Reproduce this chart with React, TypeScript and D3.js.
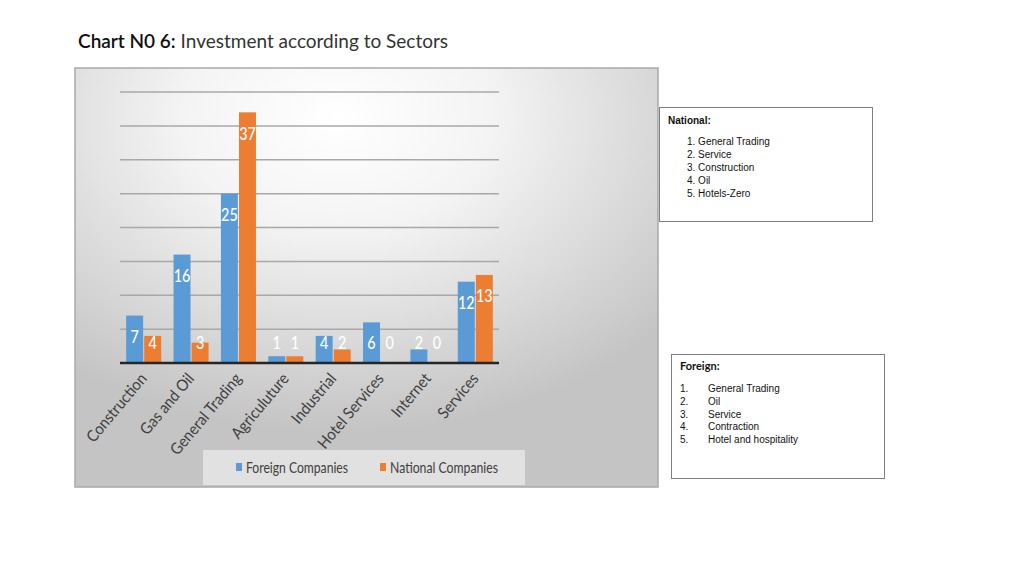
import React from "react";
import * as d3 from "d3";

const categories = ["Construction", "Gas and Oil", "General Trading", "Agriculuture", "Industrial", "Hotel Services", "Internet", "Services"];
const foreignValues = [7, 16, 25, 1, 4, 6, 2, 12];
const nationalValues = [4, 3, 37, 1, 2, 0, 0, 13];
const seriesNames = ["Foreign Companies", "National Companies"];
const seriesColors = ["#5b9bd5", "#ed7d31"];
const yTicks = [5, 10, 15, 20, 25, 30, 35, 40];
const nationalList = ["General Trading", "Service", "Construction", "Oil", "Hotels-Zero"];
const foreignList = ["General Trading", "Oil", "Service", "Contraction", "Hotel and hospitality"];

const calibri = "Lato, 'Open Sans', sans-serif";
const arial = "'Liberation Sans', Arial, sans-serif";

export default function App() {
  const x = d3.scaleBand<string>().domain(categories).range([120, 499]).paddingInner(0.26).paddingOuter(0.13);
  const x1 = d3.scaleBand<string>().domain(seriesNames).range([0, x.bandwidth()]).paddingInner(0.06);
  const y = d3.scaleLinear().domain([0, 40]).range([363, 92]);
  const seriesValues = [foreignValues, nationalValues];

  return (
    <svg width={1024} height={576} style={{ position: "absolute", left: 0, top: 0, background: "#fff" }}>
      <defs>
        <radialGradient id="panelGrad" cx="0.45" cy="0.12" r="0.75" gradientUnits="objectBoundingBox">
          <stop offset="0" stopColor="#ffffff" />
          <stop offset="0.35" stopColor="#f4f4f4" />
          <stop offset="1" stopColor="#c4c4c4" />
        </radialGradient>
      </defs>
      {/* Title */}
      <text x={78} y={48} fontFamily={calibri} fontSize={19} fill="#111">
        <tspan fontWeight={600}>Chart N0 6:</tspan>
        <tspan fill="#333"> Investment according to Sectors</tspan>
      </text>

      {/* Chart panel */}
      <rect x={75} y={68} width={583} height={419} fill="url(#panelGrad)" stroke="#a9a9a9" strokeWidth={1.5} />

      {/* Gridlines */}
      {yTicks.map((t) => (
        <line key={t} x1={120} x2={499} y1={y(t)} y2={y(t)} stroke="#a8a8a8" strokeWidth={1.5} />
      ))}

      {/* Bars */}
      {categories.map((c, i) => (
        <g key={c} transform={`translate(${x(c)},0)`}>
          {seriesNames.map((s, k) => {
            const v = seriesValues[k][i];
            const bx = x1(s)!;
            const bw = x1.bandwidth();
            const ly = Math.min(y(v) + 21, y(0) - 20);
            return (
              <g key={s}>
                <rect x={bx} y={y(v)} width={bw} height={y(0) - y(v)} fill={seriesColors[k]} />
                <text transform={`translate(${bx + bw / 2},${ly}) scale(0.8,1)`} dy="0.36em" textAnchor="middle" fontFamily={calibri} fontSize={18} fontWeight={500} fill="#ffffff">
                  {v}
                </text>
              </g>
            );
          })}
        </g>
      ))}

      {/* Baseline */}
      <line x1={120} x2={499} y1={y(0)} y2={y(0)} stroke="#262626" strokeWidth={2.5} />

      {/* Legend background */}
      <rect x={203} y={450} width={322} height={35} fill="#e9e9e9" opacity={0.8} />

      {/* X labels */}
      {categories.map((c) => {
        const cx = x(c)! + x.bandwidth() / 2 + 4;
        const cy = 379;
        return (
          <text key={c} transform={`translate(${cx},${cy}) rotate(-50) scale(0.92,1)`} textAnchor="end" fontFamily={calibri} fontSize={16} fill="#404040">
            {c}
          </text>
        );
      })}

      {/* Legend entries */}
      {seriesNames.map((s, k) => {
        const lx = k === 0 ? 236 : 380;
        return (
          <g key={s}>
            <rect x={lx} y={463} width={6} height={8} fill={seriesColors[k]} />
            <text x={lx + 10} y={473} fontFamily={calibri} fontSize={15} fill="#404040" textLength={k === 0 ? 102 : 108} lengthAdjust="spacingAndGlyphs">
              {s}
            </text>
          </g>
        );
      })}

      {/* National box */}
      <rect x={659.5} y={107.5} width={213} height={114} fill="#fff" stroke="#7f7f7f" strokeWidth={1} />
      <text x={668} y={124} fontFamily={arial} fontSize={10} fontWeight="bold" fill="#111">National:</text>
      {nationalList.map((t, i) => (
        <text key={t} x={687} y={145 + i * 13} fontFamily={arial} fontSize={10} fill="#111">
          {`${i + 1}. ${t}`}
        </text>
      ))}

      {/* Foreign box */}
      <rect x={671.5} y={354.5} width={213} height={124} fill="#fff" stroke="#7f7f7f" strokeWidth={1} />
      <text x={680} y={370} fontFamily={calibri} fontSize={11} fontWeight="bold" fill="#111">Foreign:</text>
      {foreignList.map((t, i) => (
        <g key={t}>
          <text x={680} y={392 + i * 12.8} fontFamily={arial} fontSize={10} fill="#111">{`${i + 1}.`}</text>
          <text x={708} y={392 + i * 12.8} fontFamily={arial} fontSize={10} fill="#111">{t}</text>
        </g>
      ))}
    </svg>
  );
}
